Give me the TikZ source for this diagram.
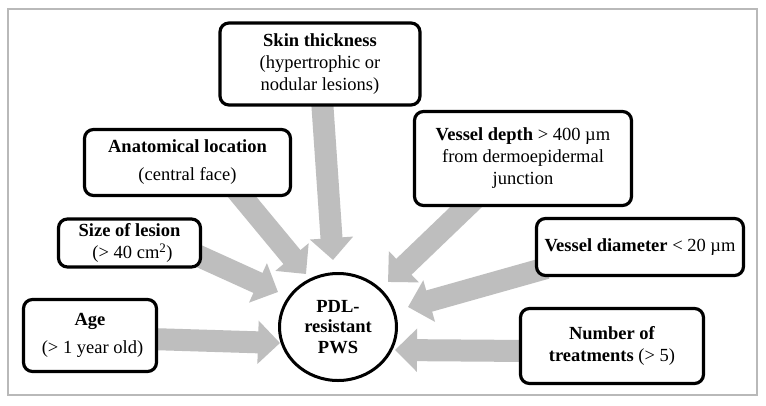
\documentclass[tikz,border=0pt]{standalone}
\usepackage{fontspec}
\setmainfont{Liberation Serif}
\usetikzlibrary{arrows.meta,calc,shapes.geometric}
\definecolor{arrowgray}{RGB}{190,190,190}
\definecolor{framegray}{RGB}{185,185,185}
\pgfdeclarelayer{bglayer}
\pgfdeclarelayer{arrowlayer}
\pgfsetlayers{bglayer,arrowlayer,main}
\tikzset{
  box/.style={draw=black, line width=3.2pt, rounded corners=9pt, fill=white,
    inner sep=0pt, align=center, font=\fontsize{18.5}{22}\selectfont},
  blockarrow/.style={draw=arrowgray, line width=22pt,
    -{Triangle[length=22pt,width=42pt]}},
  hub/.style={ellipse, draw=black, line width=3pt, fill=white, inner sep=0pt,
    minimum width=117pt, minimum height=107pt, align=center,
    font=\bfseries\fontsize{18.5}{20.5}\selectfont}
}
\begin{document}
\begin{tikzpicture}[x=1pt,y=-1pt]
\useasboundingbox (0,0) rectangle (766,405);
\begin{pgfonlayer}{bglayer}
\fill[white] (0,0) rectangle (766,405);
\draw[framegray, line width=2pt] (8,9) rectangle (757,395);
\end{pgfonlayer}

% arrow tips
\coordinate (t1) at (333,260);
\coordinate (t2) at (306,274);
\coordinate (t3) at (278,292);
\coordinate (t4) at (280,343);
\coordinate (t5) at (388,282);
\coordinate (t6) at (408,307);
\coordinate (t7) at (395,350);

% nodes
\node[box, minimum width=200pt, minimum height=82pt] (skin) at (320,64)
  {\textbf{Skin thickness}\\(hypertrophic or\\nodular lesions)};
\node[box, minimum width=206pt, minimum height=66pt] (anat) at (187.5,162.5)
  {\textbf{Anatomical location}\\[6pt](central face)};
\node[box, minimum width=142pt, minimum height=48pt] (size) at (129.5,243)
  {\textbf{Size of lesion}\\\hspace*{6pt}(> 40 cm\textsuperscript{2})};
\node[box, minimum width=133pt, minimum height=72pt] (age) at (90,335.5)
  {\textbf{Age}\\[6pt]\hspace*{5pt}(> 1 year old)};
\node[box, minimum width=217pt, minimum height=94pt] (vdepth) at (523,158.5)
  {\textbf{Vessel depth} > 400 µm\\from dermoepidermal\\junction};
\node[box, minimum width=207pt, minimum height=57pt] (vdiam) at (640,247)
  {\textbf{Vessel diameter} < 20 µm};
\node[box, minimum width=183pt, minimum height=75pt] (num) at (612,346)
  {\textbf{Number of}\\\textbf{treatments} (> 5)};
\node[hub] (pws) at (338,327) {PDL-\\resistant\\PWS};

% block arrows, behind the boxes
\begin{pgfonlayer}{arrowlayer}
\draw[blockarrow] ($(skin.south)+(2,-7)$) -- (t1);
\draw[blockarrow] ($(anat.south)+(44,-13)$) -- (t2);
\draw[blockarrow] ($(size.east)+(-10,10)$) -- (t3);
\draw[blockarrow] ($(age.east)+(-8,3.5)$) -- (t4);
\draw[blockarrow] ($(vdepth.south)+(-45,-11.5)$) -- (t5);
\draw[blockarrow] ($(vdiam.west)+(11.5,21)$) -- (t6);
\draw[blockarrow] ($(num.west)+(9.5,5)$) -- (t7);
\end{pgfonlayer}
\end{tikzpicture}
\end{document}
